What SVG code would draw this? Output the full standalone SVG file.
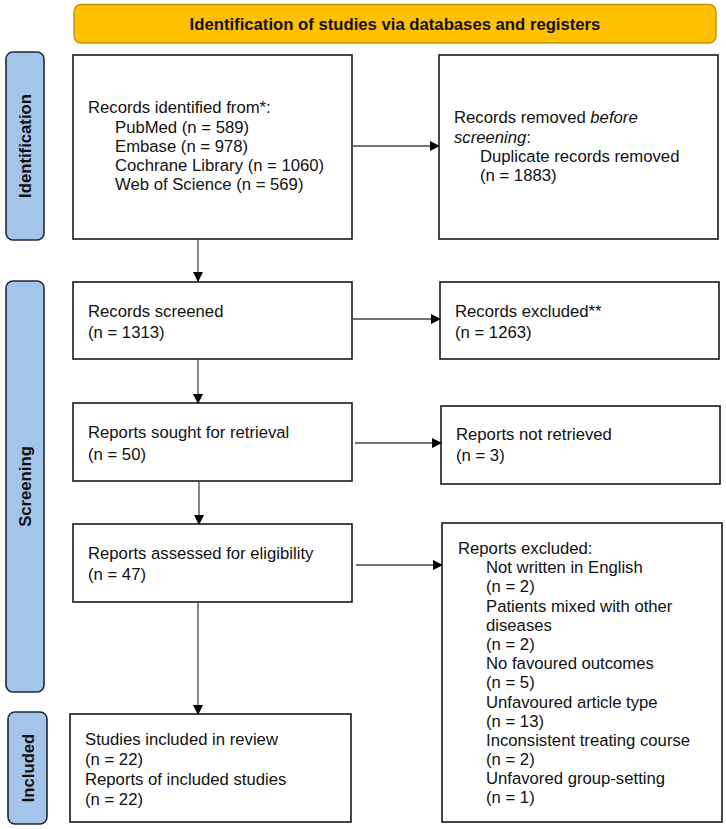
<svg xmlns="http://www.w3.org/2000/svg" width="726" height="829" viewBox="0 0 726 829">
  <defs>
    <style>
      .box { fill: #ffffff; stroke: #1a1a1a; stroke-width: 1.6; }
      .side { fill: #a4c4ea; stroke: #1c2a3a; stroke-width: 1.6; }
      .banner { fill: #ffc000; stroke: #c49300; stroke-width: 1.4; }
      .t { font-family: "Liberation Sans", Arial, sans-serif; font-size: 16.7px; fill: #111111; }
      .b { font-family: "Liberation Sans", Arial, sans-serif; font-size: 16.7px; font-weight: bold; fill: #111111; }
      .conn { stroke: #444444; stroke-width: 1.3; fill: none; }
    </style>
    <marker id="arr" markerWidth="10" markerHeight="10" refX="9" refY="5" orient="auto" markerUnits="userSpaceOnUse">
      <path d="M0,0 L10,5 L0,10 Z" fill="#000000"/>
    </marker>
  </defs>

  <rect width="726" height="829" fill="#ffffff"/>

  <g id="banner">
    <rect class="banner" x="74" y="4.5" width="642" height="38.5" rx="7" ry="7"/>
    <text class="b" x="395" y="30" text-anchor="middle">Identification of studies via databases and registers</text>
  </g>

  <g id="side-identification">
    <rect class="side" x="6" y="52" width="38" height="188" rx="7" ry="7"/>
    <text class="b" transform="translate(31,146) rotate(-90)" text-anchor="middle">Identification</text>
  </g>
  <g id="side-screening">
    <rect class="side" x="6" y="281" width="38" height="411" rx="7" ry="7"/>
    <text class="b" transform="translate(31,486.5) rotate(-90)" text-anchor="middle">Screening</text>
  </g>
  <g id="side-included">
    <rect class="side" x="8" y="712" width="39" height="112" rx="7" ry="7"/>
    <text class="b" transform="translate(33.5,768) rotate(-90)" text-anchor="middle">Included</text>
  </g>

  <g id="records-identified">
    <rect class="box" x="73" y="55" width="279" height="184"/>
    <text class="t" x="88" y="113">Records identified from*:</text>
    <text class="t" x="115" y="133">PubMed (n = 589)</text>
    <text class="t" x="115" y="152">Embase (n = 978)</text>
    <text class="t" x="115" y="171">Cochrane Library (n = 1060)</text>
    <text class="t" x="115" y="190">Web of Science (n = 569)</text>
  </g>

  <g id="records-removed">
    <rect class="box" x="439" y="55" width="279" height="184"/>
    <text class="t" x="454" y="123">Records removed <tspan font-style="italic">before</tspan></text>
    <text class="t" x="454" y="143"><tspan font-style="italic">screening</tspan>:</text>
    <text class="t" x="480" y="162">Duplicate records removed</text>
    <text class="t" x="480" y="181">(n = 1883)</text>
  </g>

  <g id="records-screened">
    <rect class="box" x="73" y="282" width="279" height="77"/>
    <text class="t" x="88" y="317">Records screened</text>
    <text class="t" x="88" y="338">(n = 1313)</text>
  </g>

  <g id="records-excluded">
    <rect class="box" x="440" y="282" width="279" height="77"/>
    <text class="t" x="455" y="317">Records excluded**</text>
    <text class="t" x="455" y="338">(n = 1263)</text>
  </g>

  <g id="reports-sought">
    <rect class="box" x="73" y="403" width="279" height="78"/>
    <text class="t" x="88" y="438">Reports sought for retrieval</text>
    <text class="t" x="88" y="460">(n = 50)</text>
  </g>

  <g id="reports-not-retrieved">
    <rect class="box" x="441" y="406" width="279" height="78"/>
    <text class="t" x="456" y="440">Reports not retrieved</text>
    <text class="t" x="456" y="461">(n = 3)</text>
  </g>

  <g id="reports-assessed">
    <rect class="box" x="73" y="524" width="279" height="78"/>
    <text class="t" x="88" y="559">Reports assessed for eligibility</text>
    <text class="t" x="88" y="580">(n = 47)</text>
  </g>

  <g id="reports-excluded">
    <rect class="box" x="442" y="523" width="280" height="299"/>
    <text class="t" x="458" y="554">Reports excluded:</text>
    <text class="t" x="486" y="573">Not written in English</text>
    <text class="t" x="486" y="592">(n = 2)</text>
    <text class="t" x="486" y="611.5">Patients mixed with other</text>
    <text class="t" x="486" y="630.5">diseases</text>
    <text class="t" x="486" y="650">(n = 2)</text>
    <text class="t" x="486" y="669">No favoured outcomes</text>
    <text class="t" x="486" y="688">(n = 5)</text>
    <text class="t" x="486" y="707.5">Unfavoured article type</text>
    <text class="t" x="486" y="726.5">(n = 13)</text>
    <text class="t" x="486" y="746">Inconsistent treating course</text>
    <text class="t" x="486" y="765">(n = 2)</text>
    <text class="t" x="486" y="784">Unfavored group-setting</text>
    <text class="t" x="486" y="803">(n = 1)</text>
  </g>

  <g id="studies-included">
    <rect class="box" x="70" y="714" width="281" height="108"/>
    <text class="t" x="85" y="745">Studies included in review</text>
    <text class="t" x="85" y="765">(n = 22)</text>
    <text class="t" x="85" y="785">Reports of included studies</text>
    <text class="t" x="85" y="805">(n = 22)</text>
  </g>

  <g id="connectors">
    <line class="conn" x1="352" y1="146" x2="439" y2="146" marker-end="url(#arr)"/>
    <line class="conn" x1="198" y1="239" x2="198" y2="281" marker-end="url(#arr)"/>
    <line class="conn" x1="352" y1="319" x2="440" y2="319" marker-end="url(#arr)"/>
    <line class="conn" x1="198" y1="359" x2="198" y2="403" marker-end="url(#arr)"/>
    <line class="conn" x1="355" y1="443" x2="441" y2="443" marker-end="url(#arr)"/>
    <line class="conn" x1="199" y1="481" x2="199" y2="524" marker-end="url(#arr)"/>
    <line class="conn" x1="356" y1="565" x2="442" y2="565" marker-end="url(#arr)"/>
    <line class="conn" x1="198" y1="602" x2="198" y2="714" marker-end="url(#arr)"/>
  </g>
</svg>
